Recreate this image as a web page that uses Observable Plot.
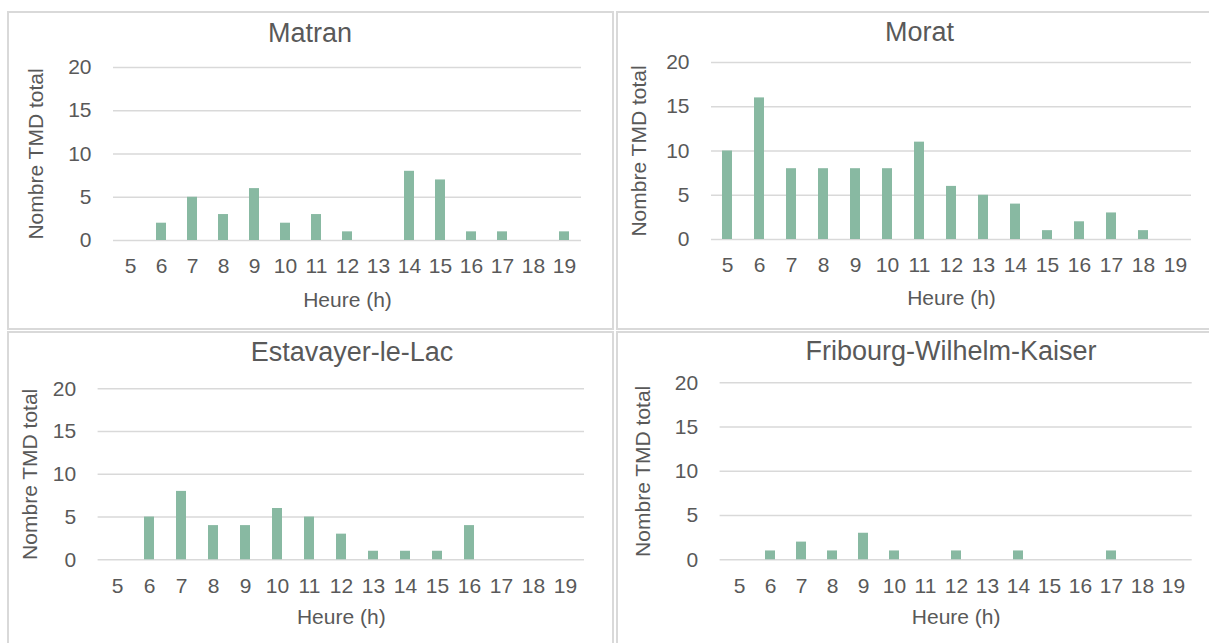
<!DOCTYPE html>
<html>
<head>
<meta charset="utf-8">
<script src="https://cdn.jsdelivr.net/npm/d3@7"></script>
<script src="https://cdn.jsdelivr.net/npm/@observablehq/plot@0.6"></script>
<style>
  html, body { margin: 0; padding: 0; background: #fff; }
  body { width: 1209px; height: 643px; overflow: hidden; position: relative; font-family: Arial, "Liberation Sans", sans-serif; }
  .panel { position: absolute; border: 2px solid #d9d9d9; box-sizing: border-box; }
  .title { position: absolute; font-size: 27px; line-height: 27px; color: #595959; white-space: nowrap; transform: translateX(-50%); }
  .chart { position: absolute; }
</style>
</head>
<body>
<script>
// ---- data ----
const hours = [5, 6, 7, 8, 9, 10, 11, 12, 13, 14, 15, 16, 17, 18, 19];
const yTicks = [0, 5, 10, 15, 20];
const stations = ["Matran", "Morat", "Estavayer-le-Lac", "Fribourg-Wilhelm-Kaiser"];
const matran    = [0, 2, 5, 3, 6, 2, 3, 1, 0, 8, 7, 1, 1, 0, 1];
const morat     = [10, 16, 8, 8, 8, 8, 11, 6, 5, 4, 1, 2, 3, 1, 0];
const estavayer = [0, 5, 8, 4, 4, 6, 5, 3, 1, 1, 1, 4, 0, 0, 0];
const fribourg  = [0, 1, 2, 1, 3, 1, 0, 1, 0, 1, 0, 0, 1, 0, 0];
const seriesValues = [matran, morat, estavayer, fribourg];
const yLabel = "Nombre TMD total";
const xLabel = "Heure (h)";

// ---- layout (page pixels) ----
const layout = [
  {panel: [7, 11, 607, 319],   box: [8, 12, 605, 317],   frame: [113, 67, 581, 240],      titleX: 310,   titleCY: 33,    ylabOff: 85, xlabOff: 66},
  {panel: [616, 11, 620, 319], box: [617, 12, 592, 317], frame: [711, 62, 1191, 239],     titleX: 919.5, titleCY: 32,    ylabOff: 80, xlabOff: 65.5},
  {panel: [7, 331, 607, 400],  box: [8, 332, 605, 311],  frame: [97.6, 388.3, 584, 559.3], titleX: 352,  titleCY: 351.7, ylabOff: 76, xlabOff: 64},
  {panel: [616, 331, 620, 400],box: [617, 332, 592, 311],frame: [719.6, 382.3, 1191.7, 559.3], titleX: 951, titleCY: 351.5, ylabOff: 85, xlabOff: 64}
];

const barColor = "#88b9a2";
const textColor = "#595959";
const gridColor = "#d9d9d9";

stations.forEach((name, i) => {
  const L = layout[i];
  const [px, py, pw, ph] = L.panel;
  const panel = document.createElement("div");
  panel.className = "panel";
  Object.assign(panel.style, {left: px + "px", top: py + "px", width: pw + "px", height: ph + "px"});
  document.body.appendChild(panel);

  const title = document.createElement("div");
  title.className = "title";
  title.textContent = name;
  title.style.left = L.titleX + "px";
  title.style.top = (L.titleCY - 0.4885 * 27) + "px";
  document.body.appendChild(title);

  const data = hours.map((h, j) => ({hour: h, value: seriesValues[i][j]}));
  const [bx, by, bw, bh] = L.box;
  const [fx0, fy0, fx1, fy1] = L.frame;

  const chart = Plot.plot({
    width: bw,
    height: bh,
    marginLeft: fx0 - bx,
    marginRight: bx + bw - fx1,
    marginTop: fy0 - by,
    marginBottom: by + bh - fy1,
    style: {fontFamily: 'Arial, "Liberation Sans", sans-serif', fontSize: "21px", color: textColor, background: "transparent", overflow: "visible"},
    x: {type: "band", domain: hours, paddingInner: 0.68, paddingOuter: 0.34},
    y: {domain: [0, 20]},
    marks: [
      Plot.gridY(yTicks, {stroke: gridColor, strokeOpacity: 1, strokeWidth: 1.5}),
      Plot.barY(data, {x: "hour", y: "value", fill: barColor}),
      Plot.axisY({ticks: yTicks, tickSize: 0, tickPadding: 22, label: yLabel, labelAnchor: "center", labelOffset: L.ylabOff, labelArrow: "none"}),
      Plot.axisX({tickSize: 0, tickPadding: 18, label: xLabel, labelAnchor: "center", labelOffset: L.xlabOff, labelArrow: "none"})
    ]
  });
  chart.classList.add("chart");
  chart.style.left = bx + "px";
  chart.style.top = by + "px";
  chart.style.position = "absolute";
  document.body.appendChild(chart);
});
</script>
</body>
</html>
